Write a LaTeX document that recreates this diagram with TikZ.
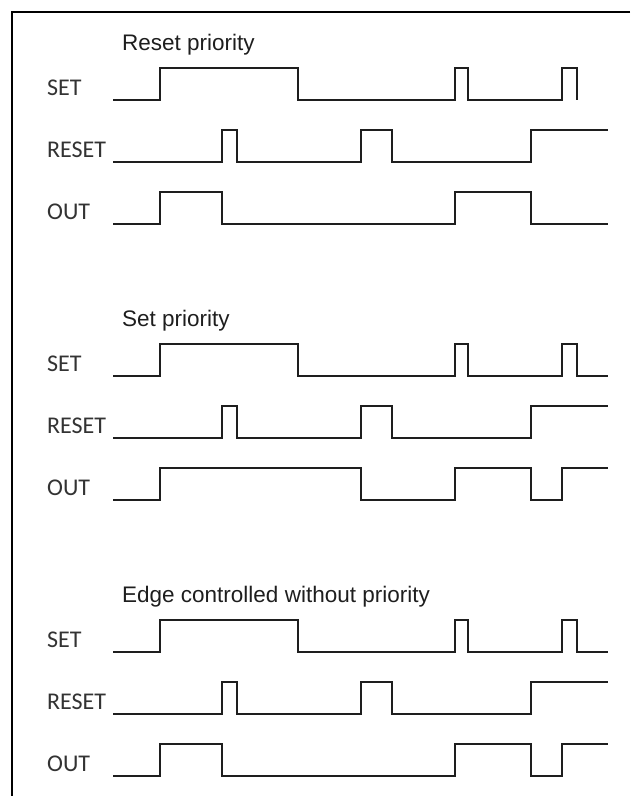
\documentclass[tikz,border=0pt]{standalone}
\usepackage{fontspec}
\setmainfont{Liberation Sans}
\newfontfamily\labelfont{Carlito}
\usetikzlibrary{positioning}
\definecolor{ink}{HTML}{1E1E1E}
\definecolor{labelgrey}{HTML}{333333}

\begin{document}
\begin{tikzpicture}[x=1pt,y=-1pt,
  wave/.style={ink,line width=1.1pt,line join=miter},
  siglabel/.style={anchor=base west,inner sep=0pt,text=labelgrey,font=\labelfont\fontsize{24}{28}\selectfont},
  plottitle/.style={anchor=base west,inner sep=0pt,text=ink,font=\fontsize{22.5}{27}\selectfont}]
 \useasboundingbox (0,0) rectangle (630,796);
 \draw[line width=2pt,black] (630,12)--(12,12)--(12,796);
 % three timing plots, same inputs
 \foreach \g/\dy/\ttl in {1/0/Reset priority,2/276/Set priority,3/552/Edge controlled without priority}{
  \begin{scope}[yshift=-\dy pt]
   \node[plottitle] (title\g) at (122,50) {\ttl};
   \node[siglabel] (set\g) at (47,95) {SET};
   \node[siglabel] (reset\g) at (47,157) {RESET};
   \node[siglabel] (out\g) at (47,219) {OUT};
   \draw[wave] (113,162) -| (222,130) -| (237,162) -| (361,130) -| (392,162) -| (531,130) -- (608,130);
  \end{scope}
 }
 % SET
 \draw[wave] (113,100) -| (160,68) -| (298,100) -| (455,68) -| (468,100) -| (562,68) -| (577,100);
 \foreach \dy in {276,552}{
  \draw[wave,yshift=-\dy pt] (113,100) -| (160,68) -| (298,100) -| (455,68) -| (468,100) -| (562,68) -| (577,100) -- (608,100);
 }
 % OUT
 \draw[wave] (113,224) -| (160,192) -| (222,224) -| (455,192) -| (531,224) -- (608,224);
 \begin{scope}[yshift=-276pt]
  \draw[wave] (113,224) -| (160,192) -| (361,224) -| (455,192) -| (531,224) -| (562,192) -- (608,192);
 \end{scope}
 \begin{scope}[yshift=-552pt]
  \draw[wave] (113,224) -| (160,192) -| (222,224) -| (455,192) -| (531,224) -| (562,192) -- (608,192);
 \end{scope}
\end{tikzpicture}
\end{document}
